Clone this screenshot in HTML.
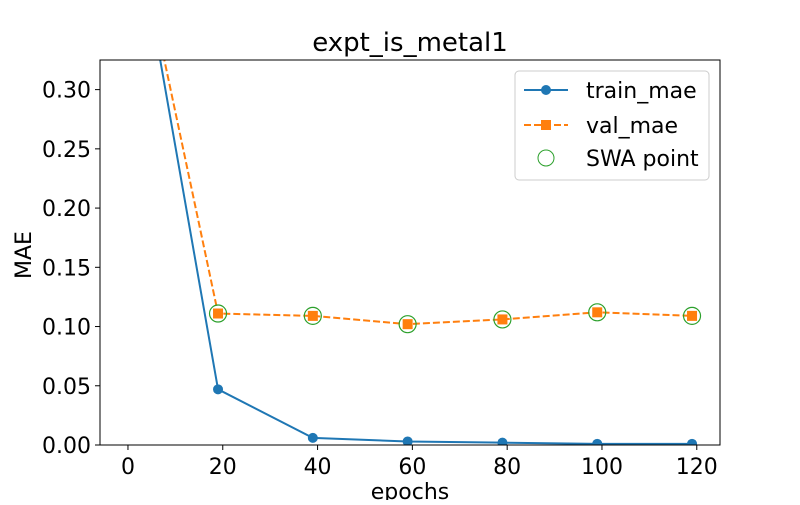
<!DOCTYPE html>
<html><head><meta charset="utf-8"><style>
body{margin:0;background:#fff;font-family:"Liberation Sans","DejaVu Sans",sans-serif}
svg text{font-family:"DejaVu Sans","Liberation Sans",sans-serif;fill:#000}
</style></head><body>
<svg id="chart" width="800" height="500" xmlns="http://www.w3.org/2000/svg">
<defs><clipPath id="clip"><rect x="100" y="60" width="620" height="385"/></clipPath></defs>
<rect x="0" y="0" width="800" height="500" fill="#fff"/>
<text x="410" y="51" font-size="26" text-anchor="middle">expt_is_metal1</text>
<g id="axes"></g>
<g id="marks" clip-path="url(#clip)"></g>
<rect x="100" y="60" width="620" height="385" fill="none" stroke="#000" stroke-width="1"/>
<g>
<rect x="515" y="71" width="194" height="109" rx="4" fill="#fff" stroke="#ccc"/>
<g>
<line x1="524" y1="90" x2="568" y2="90" stroke="#1f77b4" stroke-width="2"/>
<circle cx="546" cy="90" r="5" fill="#1f77b4"/>
<text x="586" y="98" font-size="22">train_mae</text></g>
<g>
<line x1="524" y1="125" x2="568" y2="125" stroke="#ff7f0e" stroke-width="2" stroke-dasharray="7,3"/>
<rect x="541" y="120" width="10" height="10" fill="#ff7f0e"/>
<text x="586" y="133" font-size="22">val_mae</text></g>
<g>
<circle cx="546" cy="158" r="8" fill="none" stroke="#2ca02c" stroke-width="1"/>
<text x="586" y="166" font-size="22">SWA point</text></g>
</g>
<text x="410" y="499" font-size="22" text-anchor="middle">epochs</text>
<text x="31" y="255" font-size="22" text-anchor="middle" transform="rotate(-90 31 255)">MAE</text>
</svg>
<script>
const epochs=[0,19,39,59,79,99,119];
const trainMae=[0.48,0.047,0.006,0.003,0.002,0.001,0.001];
const valMae=[0.47,0.111,0.109,0.102,0.106,0.112,0.109];
const swaEpochs=[19,39,59,79,99,119];
const swaVals=[0.111,0.109,0.102,0.106,0.112,0.109];
const xTicks=[0,20,40,60,80,100,120];
const yTicks=[0,0.05,0.10,0.15,0.20,0.25,0.30];
const X0=100,X1=720,Y0=445,Y1=60,xmin=-5.9,xmax=124.9,ymin=0,ymax=0.325;
const sx=v=>X0+(v-xmin)/(xmax-xmin)*(X1-X0);
const sy=v=>Y0-(v-ymin)/(ymax-ymin)*(Y0-Y1);
const NS="http://www.w3.org/2000/svg";
function mk(t,a,p){const e=document.createElementNS(NS,t);for(const k in a)e.setAttribute(k,a[k]);p.appendChild(e);return e;}
const axes=document.getElementById('axes'),marks=document.getElementById('marks');
xTicks.forEach(t=>{const x=sx(t);
const l=mk('line',{x1:x,x2:x,y1:445,y2:450,stroke:'#000'},axes);


const tx=mk('text',{x:x,y:474,'font-size':22,'text-anchor':'middle'},axes);tx.textContent=t;

});
yTicks.forEach(t=>{const y=sy(t);
const l=mk('line',{x1:95,x2:100,y1:y,y2:y,stroke:'#000'},axes);


const tx=mk('text',{x:91,y:y+8,'font-size':22,'text-anchor':'end'},axes);tx.textContent=t.toFixed(2);

});
const tp=mk('polyline',{points:epochs.map((e,i)=>sx(e)+','+sy(trainMae[i])).join(' '),fill:'none',stroke:'#1f77b4','stroke-width':2},marks);


epochs.forEach((e,i)=>{const c=mk('circle',{cx:sx(e),cy:sy(trainMae[i]),r:5,fill:'#1f77b4'},marks);

});
const vp=mk('polyline',{points:epochs.map((e,i)=>sx(e)+','+sy(valMae[i])).join(' '),fill:'none',stroke:'#ff7f0e','stroke-width':2,'stroke-dasharray':'7,3'},marks);


epochs.forEach((e,i)=>{const r=mk('rect',{x:sx(e)-5,y:sy(valMae[i])-5,width:10,height:10,fill:'#ff7f0e'},marks);

});
swaEpochs.forEach((e,i)=>{const c=mk('circle',{cx:sx(e),cy:sy(swaVals[i]),r:8.5,fill:'none',stroke:'#2ca02c','stroke-width':1.2},marks);

});
</script>
</body></html>
